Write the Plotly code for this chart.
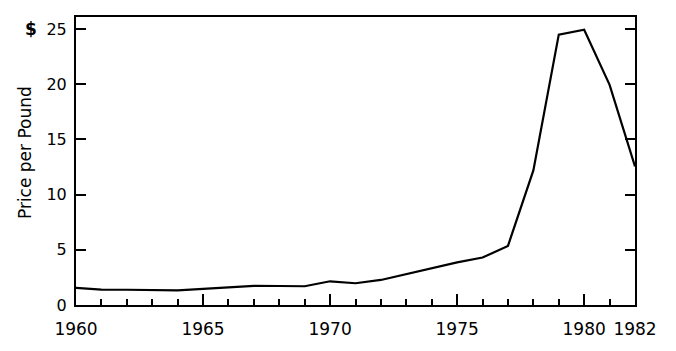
import plotly.graph_objects as go

years = list(range(1960, 1983))
price = [1.55, 1.4, 1.38, 1.35, 1.32, 1.46, 1.6, 1.73, 1.72, 1.7, 2.15, 1.97, 2.27,
         2.8, 3.35, 3.86, 4.3, 5.35, 12.2, 24.5, 24.95, 19.95, 12.55]
major_ticks = [1960, 1965, 1970, 1975, 1980, 1982]
y_ticks = [0, 5, 10, 15, 20, 25]

FONT = "DejaVu Sans"

fig = go.Figure()
fig.add_trace(go.Scatter(x=years, y=price, mode="lines",
                         line=dict(color="black", width=2.2), showlegend=False))

fig.update_layout(
    width=676, height=351,
    margin=dict(l=76, r=41, t=17, b=43),
    paper_bgcolor="white", plot_bgcolor="white",
    font=dict(family=FONT, size=15, color="black"),
    xaxis=dict(range=[1960, 1982], tickmode="array", tickvals=major_ticks,
               ticktext=[str(v) for v in major_ticks], tickangle=0,
               ticks="inside", ticklen=11, tickwidth=2, tickcolor="black",
               showline=True, linecolor="black", linewidth=2, mirror=True,
               showgrid=False, zeroline=False, ticklabelstandoff=8,
               tickfont=dict(family=FONT, size=17, color="black"),
               minor=dict(tickmode="array", tickvals=list(range(1961, 1982)),
                          ticks="inside", ticklen=6, tickwidth=2, tickcolor="black",
                          showgrid=False)),
    yaxis=dict(range=[0, 26.1], tickmode="array", tickvals=y_ticks,
               ticks="inside", ticklen=10, tickwidth=2, tickcolor="black",
               showline=True, linecolor="black", linewidth=2, mirror="ticks",
               showgrid=False, zeroline=False, ticklabelstandoff=4,
               tickfont=dict(family=FONT, size=16, color="black")),
)

fig.add_annotation(text="Price per Pound", xref="paper", yref="paper",
                   x=-0.09, y=0.53, textangle=-90, showarrow=False,
                   xanchor="center", yanchor="middle",
                   font=dict(family=FONT, size=17, color="black"))
fig.add_annotation(text="<b>$</b>", xref="paper", yref="y",
                   x=-0.08, y=25, showarrow=False, xanchor="center", yanchor="middle",
                   font=dict(family=FONT, size=17, color="black"))

fig.write_html("out.html")
